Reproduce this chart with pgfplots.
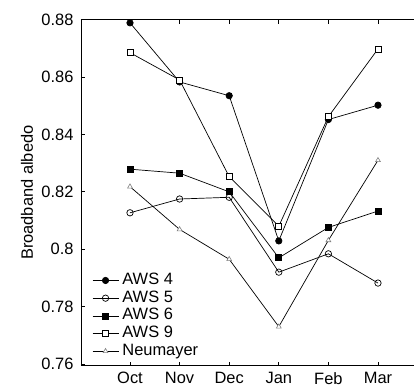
\documentclass[border=0pt]{standalone}
\usepackage{fontspec}
\setmainfont{Liberation Sans}
\usepackage{pgfplots}
\pgfplotsset{compat=1.18}
\begin{document}
\begin{tikzpicture}[font=\fontsize{16.5}{19.8}\selectfont]
\begin{axis}[
  scale only axis, width=333bp, height=346bp,
  xmin=-0.988, xmax=5.726, ymin=0.7594, ymax=0.88,
  axis x line=box, axis y line=left,
  axis line style={line width=0.9bp, -},
  tick align=inside, major tick length=4bp,
  tick style={black, line width=0.8bp},
  xtick={0,1,2,3,4,5}, xticklabels={Oct,Nov,Dec,Jan,Feb,Mar},
  ytick={0.76,0.78,0.8,0.82,0.84,0.86,0.88},
  /pgf/number format/fixed, /pgf/number format/precision=2, /pgf/number format/assume math mode=true,
  yticklabel style={xshift=-4bp},
  xticklabel style={yshift=-3bp},
  ylabel={Broadband albedo},
  ylabel style={at={(rel axis cs:-0.162,0.5)}, anchor=center},
  every axis plot/.append style={black, line width=0.7bp},
  legend style={at={(rel axis cs:0.033,0.27)}, anchor=north west, draw=none, fill=none,
    inner sep=0pt, row sep=1.7bp, column sep=3bp,
    nodes={inner sep=0.5bp, text height=11.5bp, text depth=3.5bp}},
  legend cell align=left,
  legend image code/.code={\draw[mark repeat=2,mark phase=2,#1] plot coordinates {(0bp,0bp) (13bp,0bp) (26bp,0bp)};},
]
\addplot[mark=*, mark size=3.2bp, mark options={fill=black}] coordinates {(0,0.8789) (1,0.8583) (2,0.8535) (3,0.8029) (4,0.8452) (5,0.8502)};
\addlegendentry{AWS 4}
\addplot[mark=o, mark size=3.2bp, mark options={fill=white}] coordinates {(0,0.8127) (1,0.8175) (2,0.8181) (3,0.7920) (4,0.7984) (5,0.7882)};
\addlegendentry{AWS 5}
\addplot[mark=square*, mark size=3bp, mark options={fill=black}] coordinates {(0,0.8279) (1,0.8265) (2,0.8200) (3,0.7970) (4,0.8076) (5,0.8133)};
\addlegendentry{AWS 6}
\addplot[mark=square*, mark size=3bp, mark options={fill=white}] coordinates {(0,0.8685) (1,0.8590) (2,0.8253) (3,0.8080) (4,0.8462) (5,0.8698)};
\addlegendentry{AWS 9}
\addplot[mark=triangle*, mark size=2.8bp, mark options={fill=white, draw=gray, line width=0.6bp}] coordinates {(0,0.8218) (1,0.8069) (2,0.7965) (3,0.7730) (4,0.8031) (5,0.8310)};
\addlegendentry{Neumayer}
\end{axis}
\pgfresetboundingbox
\path (-81bp,-22.3bp) rectangle (333bp,365.7bp);
\end{tikzpicture}
\end{document}
